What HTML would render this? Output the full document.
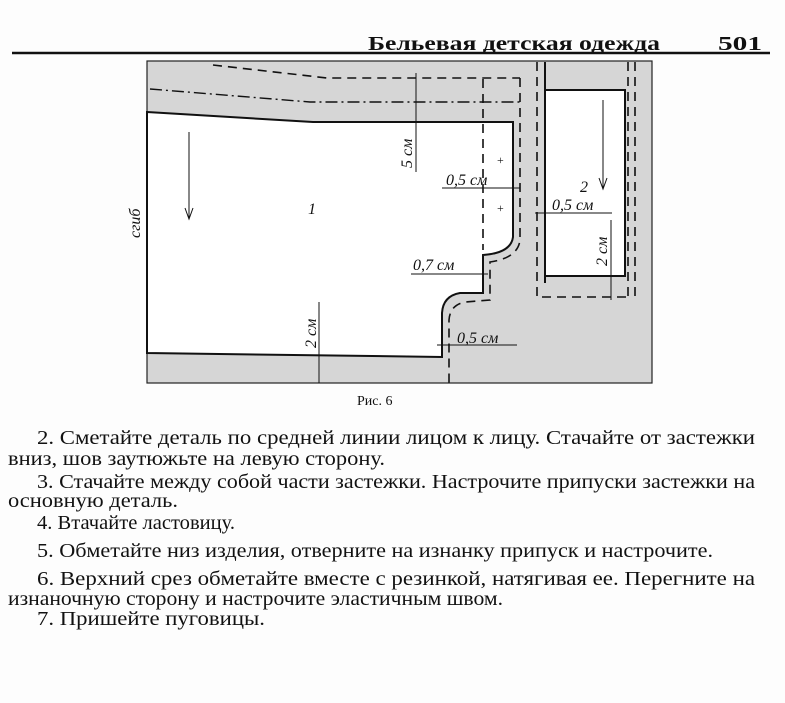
<!DOCTYPE html>
<html><head><meta charset="utf-8"><style>
html,body{margin:0;padding:0;background:#fff;}
svg{display:block;}
text{font-family:"Liberation Serif","DejaVu Serif",serif;fill:#111;}
.it{font-style:italic;font-size:16px;}
.t{font-size:20px;}
</style></head><body>
<svg width="785" height="703" viewBox="0 0 785 703" xmlns="http://www.w3.org/2000/svg">
<rect width="785" height="703" fill="#fdfdfd"/>
<text x="368" y="50" font-size="20" font-weight="bold" textLength="292" lengthAdjust="spacingAndGlyphs">Бельевая детская одежда</text>
<text x="718" y="50" font-size="20" font-weight="bold" textLength="44" lengthAdjust="spacingAndGlyphs">501</text>
<line x1="12" y1="53" x2="770" y2="53" stroke="#111" stroke-width="2.5"/>
<rect x="147" y="61" width="505" height="322" fill="#d6d6d6" stroke="#222" stroke-width="1.2"/>
<path d="M147 112 L313 122 L513 122 L513 237 Q511 253 483 255 L483 293 L460 293 Q443 296 442 313 L442 357 L147 353 Z" fill="#fff" stroke="#111" stroke-width="2"/>
<path d="M545 90 L625 90 L625 276 L545 276" fill="#fff" stroke="#111" stroke-width="2"/>
<line x1="545" y1="62" x2="545" y2="283" stroke="#111" stroke-width="2"/>
<g fill="none" stroke="#111" stroke-width="1.6" stroke-dasharray="9,6">
<path d="M213 65 L327 78 L520 78"/>
<path d="M520 78 L520 240 Q518 258 490 262 L490 300 L465 302 Q450 305 449 320 L449 383"/>
<path d="M483 79 L483 250"/>
<path d="M537 62 L537 297 L628 297"/>
<path d="M628 62 L628 297"/>
<path d="M635 62 L635 297"/>
</g>
<path d="M150 89 L310 102 L520 102" fill="none" stroke="#111" stroke-width="1.4" stroke-dasharray="12,4,2,4"/>
<g stroke="#111" stroke-width="1" fill="none">
<line x1="416" y1="73" x2="416" y2="172"/>
<line x1="442" y1="188" x2="520" y2="188"/>
<line x1="535" y1="213" x2="612" y2="213"/>
<line x1="611" y1="220" x2="611" y2="300"/>
<line x1="411" y1="274" x2="488" y2="274"/>
<line x1="437" y1="345" x2="517" y2="345"/>
<line x1="319" y1="302" x2="319" y2="383"/>
<line x1="189" y1="132" x2="189" y2="218"/>
<path d="M185 208 L189 219 L193 208"/>
<line x1="603" y1="100" x2="603" y2="188"/>
<path d="M599 178 L603 189 L607 178"/>
</g>
<text x="497" y="164" font-size="12">+</text>
<text x="497" y="212" font-size="12">+</text>
<text class="it" x="308" y="214">1</text>
<text class="it" x="580" y="192" font-size="17">2</text>
<text class="it" x="446" y="185">0,5 см</text>
<text class="it" x="552" y="210">0,5 см</text>
<text class="it" x="413" y="270">0,7 см</text>
<text class="it" x="457" y="343">0,5 см</text>
<text class="it" transform="translate(412,168) rotate(-90)">5 см</text>
<text class="it" transform="translate(607,266) rotate(-90)">2 см</text>
<text class="it" transform="translate(316,348) rotate(-90)">2 см</text>
<text class="it" transform="translate(140,238) rotate(-90)">сгиб</text>
<text x="357" y="405" font-size="14">Рис. 6</text>
<g class="t">
<text x="37" y="444" textLength="718" lengthAdjust="spacingAndGlyphs">2. Сметайте деталь по средней линии лицом к лицу. Стачайте от застежки</text>
<text x="8" y="465" textLength="377" lengthAdjust="spacingAndGlyphs">вниз, шов заутюжьте на левую сторону.</text>
<text x="37" y="488" textLength="718" lengthAdjust="spacingAndGlyphs">3. Стачайте между собой части застежки. Настрочите припуски застежки на</text>
<text x="8" y="507" textLength="170" lengthAdjust="spacingAndGlyphs">основную деталь.</text>
<text x="37" y="529" textLength="198" lengthAdjust="spacingAndGlyphs">4. Втачайте ластовицу.</text>
<text x="37" y="557" textLength="676" lengthAdjust="spacingAndGlyphs">5. Обметайте низ изделия, отверните на изнанку припуск и настрочите.</text>
<text x="37" y="585" textLength="718" lengthAdjust="spacingAndGlyphs">6. Верхний срез обметайте вместе с резинкой, натягивая ее. Перегните на</text>
<text x="8" y="605" textLength="495" lengthAdjust="spacingAndGlyphs">изнаночную сторону и настрочите эластичным швом.</text>
<text x="37" y="625" textLength="228" lengthAdjust="spacingAndGlyphs">7. Пришейте пуговицы.</text>
</g>
</svg>
</body></html>
